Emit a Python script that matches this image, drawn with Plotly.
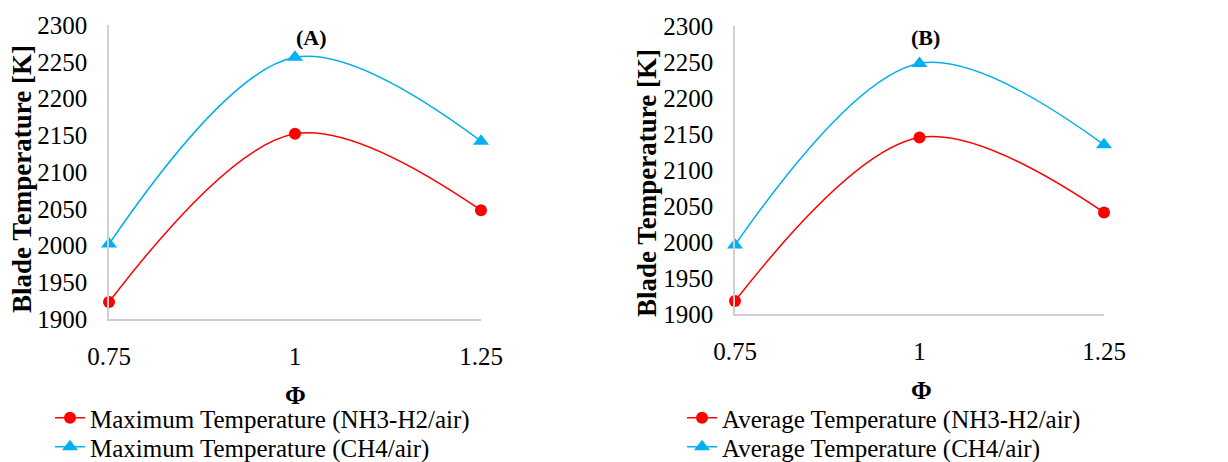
import plotly.graph_objects as go

phi = [0.75, 1.0, 1.25]
phi_labels = ["0.75", "1", "1.25"]
max_nh3 = [1923, 2152, 2048]
max_ch4 = [2002, 2256, 2142]
avg_nh3 = [1918, 2145, 2041]
avg_ch4 = [1996, 2248, 2135]
y_ticks = [1900, 1950, 2000, 2050, 2100, 2150, 2200, 2250, 2300]

# the page body adds an 8px margin, so the figure is slightly smaller than the window
OFF = 8
W, H = 1228 - OFF, 462 - OFF
FONT = "Liberation Serif"
RED = "#FF0000"
BLUE = "#00B0F0"
AXC = "#d0d0d0"

def px(sx):
    return (sx - OFF) / W

def py(sy):
    return (H - (sy - OFF)) / H

fig = go.Figure()

def add_series(x, y, name, color, symbol, size, xa, ya, legend):
    fig.add_trace(go.Scatter(
        x=x, y=y, name=name, mode="lines+markers", cliponaxis=False,
        line=dict(color=color, width=1.5, shape="spline", smoothing=1.0),
        marker=dict(color=color, symbol=symbol, size=size),
        xaxis=xa, yaxis=ya, legend=legend))

add_series(phi, max_nh3, "Maximum Temperature (NH3-H2/air)", RED, "circle", 12, "x", "y", "legend")
add_series(phi, max_ch4, "Maximum Temperature (CH4/air)", BLUE, "triangle-up", 14, "x", "y", "legend2")
add_series(phi, avg_nh3, "Average Temperature (NH3-H2/air)", RED, "circle", 12, "x2", "y2", "legend3")
add_series(phi, avg_ch4, "Average Temperature (CH4/air)", BLUE, "triangle-up", 14, "x2", "y2", "legend4")

def xaxis_cfg(domain, anchor):
    return dict(domain=domain, anchor=anchor, range=[0.75, 1.25], tickvals=phi, ticktext=phi_labels,
                showgrid=False, zeroline=False, showline=True, linecolor=AXC, linewidth=1.5,
                ticks="outside", ticklen=14, tickcolor="rgba(0,0,0,0)",
                tickfont=dict(family=FONT, size=25, color="black"))

def yaxis_cfg(domain, anchor):
    return dict(domain=domain, anchor=anchor, range=[1900, 2300], tickvals=y_ticks,
                showgrid=False, zeroline=False, showline=True, linecolor=AXC, linewidth=1.5,
                ticks="outside", ticklen=15, tickcolor="rgba(0,0,0,0)",
                tickfont=dict(family=FONT, size=25, color="black"))

def legend_cfg(sx, sy):
    return dict(x=px(sx), y=py(sy), xanchor="left", yanchor="top",
                bgcolor="rgba(0,0,0,0)", font=dict(family=FONT, size=25, color="black"),
                tracegroupgap=0)

fig.update_layout(
    width=W, height=H,
    margin=dict(l=0, r=0, t=0, b=0, autoexpand=False),
    paper_bgcolor="white", plot_bgcolor="white",
    font=dict(family=FONT, color="black", size=25),
    xaxis=xaxis_cfg([px(109), px(481)], "y"),
    yaxis=yaxis_cfg([py(319), py(25)], "x"),
    xaxis2=xaxis_cfg([px(735), px(1104)], "y2"),
    yaxis2=yaxis_cfg([py(314), py(26)], "x2"),
    legend=legend_cfg(50, 395),
    legend2=legend_cfg(50, 424),
    legend3=legend_cfg(682, 395),
    legend4=legend_cfg(682, 424),
    showlegend=True,
)

annos = [
    dict(text="<b>Blade Temperature [K]</b>", x=px(22), y=py(179), textangle=-90, size=27),
    dict(text="<b>Blade Temperature [K]</b>", x=px(647), y=py(183), textangle=-90, size=27),
    dict(text="<b>Φ</b>", x=px(295), y=py(395), textangle=0, size=25),
    dict(text="<b>Φ</b>", x=px(921), y=py(390), textangle=0, size=25),
    dict(text="<b>(A)</b>", x=px(311), y=py(37), textangle=0, size=22),
    dict(text="<b>(B)</b>", x=px(925), y=py(37), textangle=0, size=22),
]
for a in annos:
    fig.add_annotation(text=a["text"], x=a["x"], y=a["y"], xref="paper", yref="paper",
                       xanchor="center", yanchor="middle", showarrow=False,
                       textangle=a["textangle"],
                       font=dict(family=FONT, size=a["size"], color="black"))

fig.write_html("out.html")
